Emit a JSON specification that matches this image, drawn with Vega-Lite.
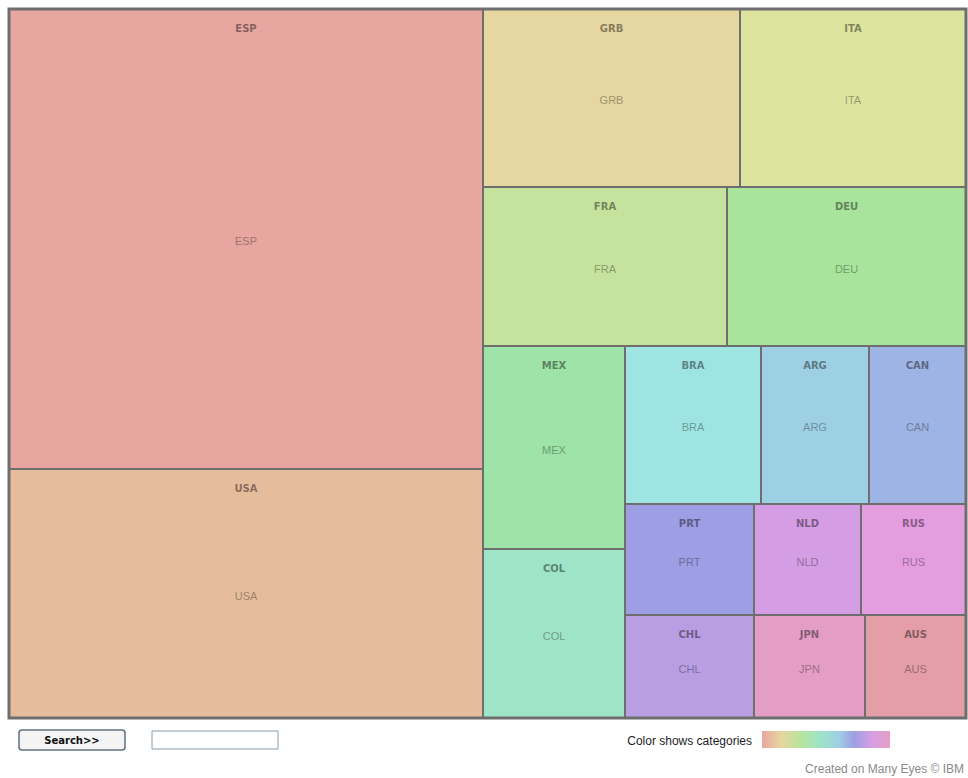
{
  "$schema": "https://vega.github.io/schema/vega-lite/v6.json",
  "width": 968,
  "height": 778,
  "padding": 0,
  "autosize": {"type": "fit", "contains": "padding"},
  "background": "white",
  "config": {"view": {"stroke": null}},
  "datasets": {
    "cells": [
      {"name": "ESP", "x0": 9, "x1": 483, "y0": 9, "y1": 469, "color": "#e8a6a0"},
      {"name": "USA", "x0": 9, "x1": 483, "y0": 469, "y1": 718, "color": "#e6bd9c"},
      {"name": "GRB", "x0": 483, "x1": 740, "y0": 9, "y1": 187, "color": "#e6d6a0"},
      {"name": "ITA", "x0": 740, "x1": 966, "y0": 9, "y1": 187, "color": "#dde49e"},
      {"name": "FRA", "x0": 483, "x1": 727, "y0": 187, "y1": 346, "color": "#c6e39e"},
      {"name": "DEU", "x0": 727, "x1": 966, "y0": 187, "y1": 346, "color": "#a8e49c"},
      {"name": "MEX", "x0": 483, "x1": 625, "y0": 346, "y1": 549, "color": "#9ee3a8"},
      {"name": "COL", "x0": 483, "x1": 625, "y0": 549, "y1": 718, "color": "#9ee4c6"},
      {"name": "BRA", "x0": 625, "x1": 761, "y0": 346, "y1": 504, "color": "#9ee4e2"},
      {"name": "ARG", "x0": 761, "x1": 869, "y0": 346, "y1": 504, "color": "#9ed0e4"},
      {"name": "CAN", "x0": 869, "x1": 966, "y0": 346, "y1": 504, "color": "#9eb4e4"},
      {"name": "PRT", "x0": 625, "x1": 754, "y0": 504, "y1": 615, "color": "#9e9ee4"},
      {"name": "NLD", "x0": 754, "x1": 861, "y0": 504, "y1": 615, "color": "#d59ee4"},
      {"name": "RUS", "x0": 861, "x1": 966, "y0": 504, "y1": 615, "color": "#e49ee0"},
      {"name": "CHL", "x0": 625, "x1": 754, "y0": 615, "y1": 718, "color": "#b99ee4"},
      {"name": "JPN", "x0": 754, "x1": 865, "y0": 615, "y1": 718, "color": "#e49ec6"},
      {"name": "AUS", "x0": 865, "x1": 966, "y0": 615, "y1": 718, "color": "#e49ea8"}
    ]
  },
  "layer": [
    {
      "data": {"name": "cells"},
      "mark": {"type": "rect", "stroke": "#6e6e6e", "strokeWidth": 2},
      "encoding": {
        "x": {"field": "x0", "type": "quantitative", "scale": {"domain": [0, 968], "nice": false, "zero": false}, "axis": null},
        "x2": {"field": "x1"},
        "y": {"field": "y0", "type": "quantitative", "scale": {"domain": [0, 778], "nice": false, "zero": false, "reverse": true}, "axis": null},
        "y2": {"field": "y1"},
        "fill": {"field": "color", "type": "nominal", "scale": null}
      }
    },
    {
      "data": {"values": [{"x0": 9, "x1": 966, "y0": 9, "y1": 718}]},
      "mark": {"type": "rect", "fill": null, "stroke": "#6e6e6e", "strokeWidth": 3},
      "encoding": {
        "x": {"field": "x0", "type": "quantitative"},
        "x2": {"field": "x1"},
        "y": {"field": "y0", "type": "quantitative"},
        "y2": {"field": "y1"}
      }
    },
    {
      "data": {"name": "cells"},
      "transform": [
        {"calculate": "(datum.x0 + datum.x1) / 2", "as": "cx"},
        {"calculate": "datum.y0 + 20", "as": "ty"}
      ],
      "mark": {"type": "text", "font": "DejaVu Sans", "fontSize": 10, "fontWeight": "bold", "color": "#000000", "opacity": 0.42, "baseline": "middle"},
      "encoding": {
        "x": {"field": "cx", "type": "quantitative"},
        "y": {"field": "ty", "type": "quantitative"},
        "text": {"field": "name"}
      }
    },
    {
      "data": {"name": "cells"},
      "transform": [
        {"calculate": "(datum.x0 + datum.x1) / 2", "as": "cx"},
        {"calculate": "(datum.y0 + datum.y1) / 2", "as": "cy"}
      ],
      "mark": {"type": "text", "font": "Liberation Sans", "fontSize": 11, "color": "#000000", "opacity": 0.32, "baseline": "middle", "dy": 3},
      "encoding": {
        "x": {"field": "cx", "type": "quantitative"},
        "y": {"field": "cy", "type": "quantitative"},
        "text": {"field": "name"}
      }
    },
    {
      "data": {"values": [{"x0": 19, "x1": 125, "y0": 730, "y1": 750}]},
      "mark": {"type": "rect", "fill": "#f4f4f4", "stroke": "#607080", "strokeWidth": 1.5, "cornerRadius": 3},
      "encoding": {
        "x": {"field": "x0", "type": "quantitative"},
        "x2": {"field": "x1"},
        "y": {"field": "y0", "type": "quantitative"},
        "y2": {"field": "y1"}
      }
    },
    {
      "data": {"values": [{"x0": 152, "x1": 278, "y0": 731, "y1": 749}]},
      "mark": {"type": "rect", "fill": "white", "stroke": "#8899aa", "strokeWidth": 1},
      "encoding": {
        "x": {"field": "x0", "type": "quantitative"},
        "x2": {"field": "x1"},
        "y": {"field": "y0", "type": "quantitative"},
        "y2": {"field": "y1"}
      }
    },
    {
      "data": {"values": [{"x0": 762, "x1": 890, "y0": 731, "y1": 748}]},
      "mark": {"type": "rect", "fill": {"gradient": "linear", "x1": 0, "x2": 1, "y1": 0, "y2": 0, "stops": [
        {"offset": 0, "color": "#e8a6a0"},
        {"offset": 0.15, "color": "#e6d6a0"},
        {"offset": 0.3, "color": "#b8e49c"},
        {"offset": 0.45, "color": "#9ee4c6"},
        {"offset": 0.6, "color": "#9ed0e4"},
        {"offset": 0.72, "color": "#9e9ee4"},
        {"offset": 0.85, "color": "#d59ee4"},
        {"offset": 1, "color": "#e49ec6"}
      ]}},
      "encoding": {
        "x": {"field": "x0", "type": "quantitative"},
        "x2": {"field": "x1"},
        "y": {"field": "y0", "type": "quantitative"},
        "y2": {"field": "y1"}
      }
    },
    {
      "data": {"values": [
        {"label": "Search>>", "x": 72, "y": 741}
      ]},
      "mark": {"type": "text", "font": "DejaVu Sans", "fontSize": 10, "fontWeight": "bold", "color": "#111111", "align": "center", "baseline": "middle"},
      "encoding": {
        "x": {"field": "x", "type": "quantitative"},
        "y": {"field": "y", "type": "quantitative"},
        "text": {"field": "label"}
      }
    },
    {
      "data": {"values": [
        {"label": "Color shows categories", "x": 752, "y": 741}
      ]},
      "mark": {"type": "text", "font": "Liberation Sans", "fontSize": 12, "color": "#222222", "align": "right", "baseline": "middle"},
      "encoding": {
        "x": {"field": "x", "type": "quantitative"},
        "y": {"field": "y", "type": "quantitative"},
        "text": {"field": "label"}
      }
    },
    {
      "data": {"values": [
        {"label": "Created on Many Eyes © IBM", "x": 964, "y": 769}
      ]},
      "mark": {"type": "text", "font": "Liberation Sans", "fontSize": 12, "color": "#8a8a8a", "align": "right", "baseline": "middle"},
      "encoding": {
        "x": {"field": "x", "type": "quantitative"},
        "y": {"field": "y", "type": "quantitative"},
        "text": {"field": "label"}
      }
    }
  ]
}
